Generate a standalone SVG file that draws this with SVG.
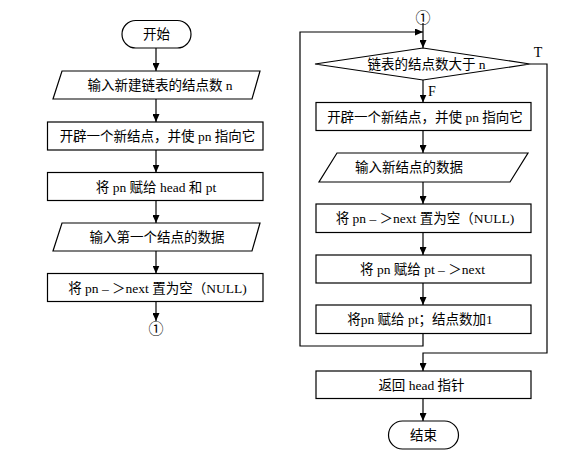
<svg xmlns="http://www.w3.org/2000/svg" width="565" height="455" viewBox="0 0 565 455">
<style>
.s{fill:#fff;stroke:#000;stroke-width:1.2}
.c{fill:none;stroke:#000;stroke-width:1.2}
text{font-family:"Liberation Serif","Noto Sans CJK SC",serif;font-size:13.5px;fill:#000;text-anchor:middle}
.lb{font-size:14px}
.cir{font-family:"Noto Sans CJK SC","DejaVu Sans",sans-serif;font-size:15px}
</style>
<defs>
<marker id="ah" markerUnits="userSpaceOnUse" markerWidth="9" markerHeight="7" refX="8" refY="3.5" orient="auto">
<path d="M0,0 L8,3.5 L0,7 Z" fill="#000"/>
</marker>
</defs>
<rect width="565" height="455" fill="#fff"/>
<g id="connectors">
<line class="c" x1="156" y1="48" x2="156" y2="71" marker-end="url(#ah)"/>
<line class="c" x1="156" y1="99" x2="156" y2="122" marker-end="url(#ah)"/>
<line class="c" x1="156" y1="150" x2="156" y2="172.5" marker-end="url(#ah)"/>
<line class="c" x1="156" y1="200.5" x2="156" y2="223" marker-end="url(#ah)"/>
<line class="c" x1="156" y1="251" x2="156" y2="273.5" marker-end="url(#ah)"/>
<line class="c" x1="156" y1="301.5" x2="156" y2="321" marker-end="url(#ah)"/>
<line class="c" x1="423" y1="23" x2="423" y2="48" marker-end="url(#ah)"/>
<polyline class="c" points="423,333.5 423,346 300,346 300,32 423,32" marker-end="url(#ah)"/>
<line class="c" x1="423" y1="80" x2="423" y2="102.5" marker-end="url(#ah)"/>
<line class="c" x1="423" y1="130.5" x2="423" y2="153" marker-end="url(#ah)"/>
<line class="c" x1="423" y1="182" x2="423" y2="204" marker-end="url(#ah)"/>
<line class="c" x1="423" y1="232.5" x2="423" y2="255" marker-end="url(#ah)"/>
<line class="c" x1="423" y1="283" x2="423" y2="305" marker-end="url(#ah)"/>
<polyline class="c" points="530,64 547,64 547,353 423,353 423,371" marker-end="url(#ah)"/>
<line class="c" x1="423" y1="398.5" x2="423" y2="421" marker-end="url(#ah)"/>
<text class="lb" x="538" y="57">T</text>
<text class="lb" x="432" y="96">F</text>
</g>
<g id="start">
<rect class="s" x="122" y="20.5" width="69" height="27.5" rx="13.75"/>
<text x="156.5" y="39">开始</text>
</g>
<g id="input-n">
<polygon class="s" points="62,71 260,71 252,99 53,99"/>
<text x="160" y="90">输入新建链表的结点数 n</text>
</g>
<g id="new-node-1">
<rect class="s" x="47.5" y="122" width="215.5" height="28"/>
<text x="157.5" y="141">开辟一个新结点，并使 pn 指向它</text>
</g>
<g id="assign-head">
<rect class="s" x="47.5" y="172.5" width="215.5" height="28"/>
<text x="156" y="191.5">将 pn 赋给 head 和 pt</text>
</g>
<g id="input-first">
<polygon class="s" points="62,223 260,223 252,251 53,251"/>
<text x="157" y="242">输入第一个结点的数据</text>
</g>
<g id="set-null-1">
<rect class="s" x="47.5" y="273.5" width="215.5" height="28"/>
<text x="157.5" y="292.5">将 pn – ＞next 置为空（NULL)</text>
</g>
<g id="conn-out">
<text class="cir" x="156" y="333.5">①</text>
</g>
<g id="conn-in">
<text class="cir" x="423" y="22.5">①</text>
</g>
<g id="decision">
<polygon class="s" points="315,64 423,48 530,64 423,80"/>
<text x="426.5" y="68.5">链表的结点数大于 n</text>
</g>
<g id="new-node-2">
<rect class="s" x="316" y="102.5" width="215" height="28"/>
<text x="425" y="121.5">开辟一个新结点，并使 pn 指向它</text>
</g>
<g id="input-data">
<polygon class="s" points="337,153 528,153 510,182 319,182"/>
<text x="409" y="172">输入新结点的数据</text>
</g>
<g id="set-null-2">
<rect class="s" x="316" y="204" width="215" height="28.5"/>
<text x="425" y="223">将 pn – ＞next 置为空（NULL)</text>
</g>
<g id="link-next">
<rect class="s" x="316" y="255" width="215" height="28"/>
<text x="422.5" y="274">将 pn 赋给 pt – ＞next</text>
</g>
<g id="advance">
<rect class="s" x="316" y="305" width="215" height="28.5"/>
<text x="420" y="324">将pn 赋给 pt；结点数加1</text>
</g>
<g id="return-head">
<rect class="s" x="316" y="371" width="215" height="27.5"/>
<text x="421.5" y="389.5">返回 head 指针</text>
</g>
<g id="end">
<rect class="s" x="388.5" y="421" width="70" height="28" rx="14"/>
<text x="423.5" y="440">结束</text>
</g>
</svg>
